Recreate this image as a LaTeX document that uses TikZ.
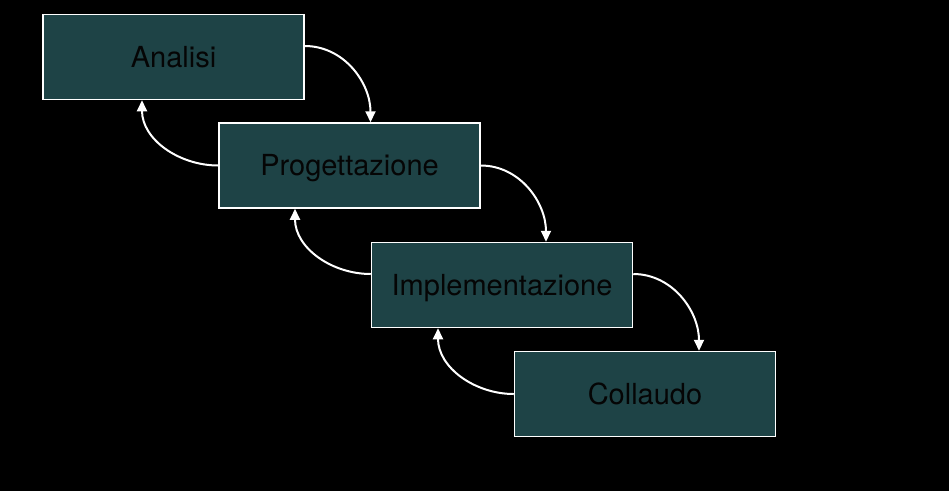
\documentclass[tikz,border=0pt]{standalone}
\usepackage{fontspec}
\setmainfont{TeX Gyre Heros}
\usetikzlibrary{arrows.meta,positioning}
\definecolor{phasefill}{RGB}{30,67,70}
\definecolor{phasetext}{RGB}{5,5,5}

\begin{document}
\begin{tikzpicture}[
  x=1pt,y=-1pt,
  phase/.style={rectangle,draw=white,line width=1.5pt,fill=phasefill,
                minimum width=261pt,minimum height=85pt,inner sep=0pt,
                text height=20.7pt,text depth=0pt,
                text=phasetext,font=\fontsize{29}{34}\selectfont},
  fwd/.style={-{Triangle[length=11pt,width=10pt]},line width=2pt,draw=white,
              out=0,in=90},
  back/.style={-{Triangle[length=11pt,width=10pt]},line width=2pt,draw=white,
               out=180,in=-90},
]
\fill[black] (0,0) rectangle (949,491);

\node[phase] (ana) at (173.5,57)  {Analisi};
\node[phase] (pro) at (349.5,165.5) {Progettazione};
\node[phase] (imp) at (502,285)   {Implementazione};
\node[phase] (col) at (645,394)   {Collaudo};

% forward flow
\draw[fwd] ([yshift=11pt]ana.east) to ([xshift=21pt]pro.north);
\draw[fwd] (pro.east) to ([xshift=44pt]imp.north);
\draw[fwd] ([yshift=11pt]imp.east) to ([xshift=54pt]col.north);

% feedback
\draw[back] (pro.west) to ([xshift=-31.5pt]ana.south);
\draw[back] ([yshift=11pt]imp.west) to ([xshift=-54.5pt]pro.south);
\draw[back] (col.west) to ([xshift=-64pt]imp.south);
\end{tikzpicture}
\end{document}
